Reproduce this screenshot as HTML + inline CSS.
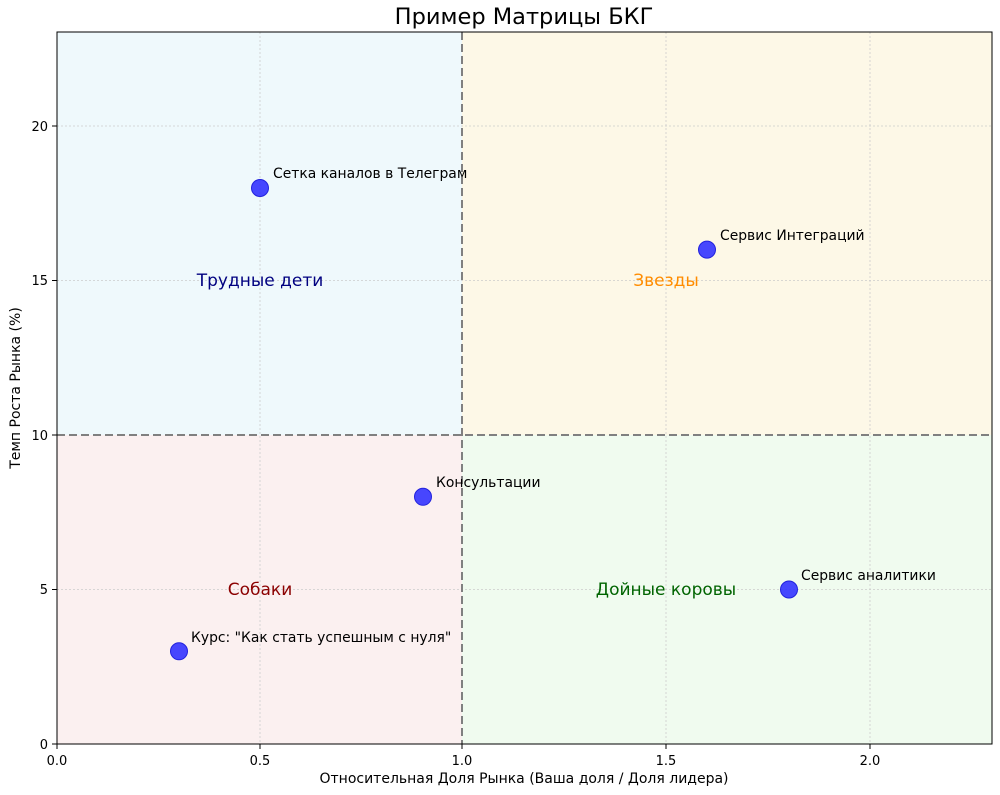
<!DOCTYPE html>
<html><head><meta charset="utf-8"><style>body{margin:0;background:#fff}svg{display:block}text{font-family:"DejaVu Sans","Liberation Sans",sans-serif}</style></head><body>
<svg width="1000" height="795" viewBox="0 0 1000 795" xmlns="http://www.w3.org/2000/svg">
<rect width="1000" height="795" fill="#fff"/>
<rect x="57" y="32" width="405" height="403" fill="#eff9fc"/>
<rect x="462" y="32" width="530" height="403" fill="#fdf8e7"/>
<rect x="57" y="435" width="405" height="309" fill="#fbf0f0"/>
<rect x="462" y="435" width="530" height="309" fill="#f0fbef"/>
<g stroke="#ccc" stroke-width="0.8" stroke-dasharray="2,2">
<line x1="260" y1="32" x2="260" y2="744"/><line x1="666" y1="32" x2="666" y2="744"/><line x1="870" y1="32" x2="870" y2="744"/>
<line x1="57" y1="589.5" x2="992" y2="589.5"/><line x1="57" y1="280.5" x2="992" y2="280.5"/><line x1="57" y1="126" x2="992" y2="126"/>
</g>
<g stroke="#808080" stroke-width="2" stroke-dasharray="8,4">
<line x1="462" y1="32" x2="462" y2="744"/><line x1="57" y1="435" x2="992" y2="435"/>
</g>
<rect x="57" y="32" width="935" height="712" fill="none" stroke="#000" stroke-width="1"/>
<g stroke="#000"><line x1="57" y1="744" x2="57" y2="749"/><line x1="260" y1="744" x2="260" y2="749"/><line x1="462" y1="744" x2="462" y2="749"/><line x1="666" y1="744" x2="666" y2="749"/><line x1="870" y1="744" x2="870" y2="749"/>
<line x1="52" y1="744" x2="57" y2="744"/><line x1="52" y1="589.5" x2="57" y2="589.5"/><line x1="52" y1="435" x2="57" y2="435"/><line x1="52" y1="280.5" x2="57" y2="280.5"/><line x1="52" y1="126" x2="57" y2="126"/></g>
<g font-size="13" text-anchor="middle"><text x="57" y="765">0.0</text><text x="260" y="765">0.5</text><text x="462" y="765">1.0</text><text x="666" y="765">1.5</text><text x="870" y="765">2.0</text></g>
<g font-size="13" text-anchor="end"><text x="48" y="749">0</text><text x="48" y="594">5</text><text x="48" y="440">10</text><text x="48" y="285">15</text><text x="48" y="131">20</text></g>
<text x="524" y="783" font-size="14" text-anchor="middle">Относительная Доля Рынка (Ваша доля / Доля лидера)</text>
<text transform="translate(20,388) rotate(-90)" font-size="14" text-anchor="middle">Темп Роста Рынка (%)</text>
<text x="524" y="24" font-size="22.5" text-anchor="middle">Пример Матрицы БКГ</text>
<g font-size="17" text-anchor="middle"><text x="260" y="286" fill="#000080">Трудные дети</text><text x="666" y="286" fill="#ff8c00">Звезды</text><text x="260" y="595" fill="#8b0000">Собаки</text><text x="666" y="595" fill="#006400">Дойные коровы</text></g>
<g fill="#3333ff" fill-opacity="0.9" stroke="#2222dd"><circle cx="260" cy="188" r="8.5"/><circle cx="707" cy="249.6" r="8.5"/><circle cx="423" cy="496.8" r="8.5"/><circle cx="789" cy="589.5" r="8.5"/><circle cx="179" cy="651.3" r="8.5"/></g>
<g font-size="13.9"><text x="273" y="178">Сетка каналов в Телеграм</text><text x="720" y="240">Сервис Интеграций</text><text x="436" y="487">Консультации</text><text x="801" y="580">Сервис аналитики</text><text x="191" y="642">Курс: "Как стать успешным с нуля"</text></g>
</svg>
</body></html>
